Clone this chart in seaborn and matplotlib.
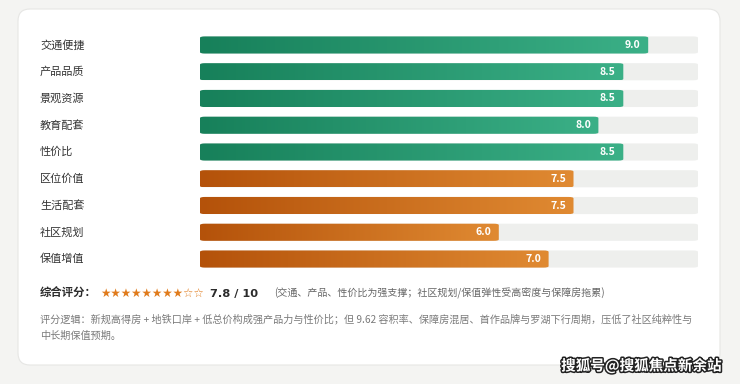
import numpy as np
import pandas as pd
import matplotlib
matplotlib.use("Agg")
import matplotlib.pyplot as plt
import seaborn as sns
from matplotlib.patches import FancyBboxPatch
from matplotlib.colors import LinearSegmentedColormap
from matplotlib.transforms import blended_transform_factory
import matplotlib.patheffects as pe

# ---------------- data ----------------
categories = ["交通便捷", "产品品质", "景观资源", "教育配套", "性价比",
              "区位价值", "生活配套", "社区规划", "保值增值"]
scores = [9.0, 8.5, 8.5, 8.0, 8.5, 7.5, 7.5, 6.0, 7.0]
groups = ["strong"] * 5 + ["weak"] * 4
max_score = 10
overall_label = "综合评分："
stars_text = "★★★★★★★★☆☆"
overall_text = "7.8 / 10"
overall_note = "(交通、产品、性价比为强支撑；社区规划/保值弹性受高密度与保障房拖累)"
logic_lines = [
    "评分逻辑：新规高得房 + 地铁口岸 + 低总价构成强产品力与性价比；但 9.62 容积率、保障房混居、首作品牌与罗湖下行周期，压低了社区纯粹性与",
    "中长期保值预期。",
]
watermark = "搜狐号@搜狐焦点新余站"

# ---------------- style ----------------
sns.set_theme(style="white")
plt.rcParams["font.family"] = ["Noto Sans CJK SC", "DejaVu Sans"]

W, H = 740, 384
fig = plt.figure(figsize=(W / 100, H / 100), dpi=100, facecolor="#F4F4F2")

# card
cx0, cy0, cx1, cy1 = 18, 9, 720, 365
card = FancyBboxPatch((cx0 / W, 1 - cy1 / H), (cx1 - cx0) / W, (cy1 - cy0) / H,
                      boxstyle=f"round,pad=0,rounding_size={12 / W}",
                      mutation_aspect=W / H, transform=fig.transFigure,
                      facecolor="white", edgecolor="#E6E6E4", linewidth=0.8, zorder=0)
fig.add_artist(card)

# axes
top_px, bot_px = 31.6, 272.4
ax = fig.add_axes([200 / W, 1 - bot_px / H, 498 / W, (bot_px - top_px) / H])
ax.set_facecolor("none")

df = pd.DataFrame({"category": categories, "score": scores, "group": groups,
                   "max": [max_score] * len(categories)})

sns.barplot(data=df, y="category", x="max", color="#EEEFED", width=0.64,
            saturation=1, ax=ax, orient="h")
n_track = len(ax.patches)
sns.barplot(data=df, y="category", x="score", hue="group",
            palette={"strong": "#1F8F66", "weak": "#C86A1C"}, width=0.64,
            dodge=False, legend=False, saturation=1, ax=ax, orient="h")

ax.set_xlim(0, max_score)
ax.set_ylim(len(categories) - 0.5, -0.5)
ax.axis("off")

px_per_x = 498 / max_score
px_per_y = (bot_px - top_px) / len(categories)
rad = 5 / px_per_x
aspect = px_per_x / px_per_y

grad_colors = {
    "strong": LinearSegmentedColormap.from_list("g", ["#17805A", "#3BB087"]),
    "weak": LinearSegmentedColormap.from_list("o", ["#B4520A", "#E08A32"]),
}
gradient = np.linspace(0, 1, 256).reshape(1, -1)

patches = list(ax.patches)
for i, p in enumerate(patches):
    x, y = p.get_x(), p.get_y()
    w, h = p.get_width(), p.get_height()
    p.remove()
    if w <= 0:
        continue
    row = int(round(y + h / 2))
    if i < n_track:
        fb = FancyBboxPatch((x, y), w, h,
                            boxstyle=f"round,pad=0,rounding_size={rad}",
                            mutation_aspect=1 / aspect,
                            facecolor="#EEEFED", edgecolor="none", zorder=1)
        ax.add_patch(fb)
    else:
        fb = FancyBboxPatch((x, y), w, h,
                            boxstyle=f"round,pad=0,rounding_size={rad}",
                            mutation_aspect=1 / aspect,
                            facecolor="none", edgecolor="none", zorder=2)
        ax.add_patch(fb)
        im = ax.imshow(gradient, cmap=grad_colors[groups[row]], aspect="auto",
                       extent=(x, x + w, y + h, y), zorder=2, interpolation="bicubic")
        im.set_clip_path(fb)
        ax.text(x + w - 0.15, row, f"{scores[row]:.1f}", ha="right", va="center",
                color="white", fontsize=7.6, fontweight="bold", zorder=3)

ax.set_xlim(0, max_score)
ax.set_ylim(len(categories) - 0.5, -0.5)

# category labels
trans = blended_transform_factory(fig.transFigure, ax.transData)
for i, c in enumerate(categories):
    ax.text(40 / W, i, c, transform=trans, ha="left", va="center",
            color="#333333", fontsize=8, clip_on=False)

# summary line
ys = 1 - 293.5 / H
fig.text(40 / W, ys, overall_label, ha="left", va="center", color="#2B2B2B",
         fontsize=8.2, fontweight="bold")
fig.text(100 / W, ys, stars_text, ha="left", va="center", color="#E07B1C",
         fontsize=8.4, family=["DejaVu Sans"])
fig.text(210 / W, ys, overall_text, ha="left", va="center", color="#2B2B2B",
         fontsize=8.2, fontweight="bold", family=["DejaVu Sans"])
fig.text(274 / W, ys, overall_note, ha="left", va="center", color="#666666",
         fontsize=7.2)

# logic lines
for line, ypx in zip(logic_lines, [319.5, 335.5]):
    fig.text(40 / W, 1 - ypx / H, line, ha="left", va="center", color="#7A7A7A",
             fontsize=7.3)

# watermark
fig.text(722 / W, 1 - 366 / H, watermark, ha="right", va="center", color="white",
         fontsize=10.5, fontweight="bold",
         path_effects=[pe.withStroke(linewidth=2.2, foreground="#222222")])

fig.savefig("out.png", dpi=100, facecolor=fig.get_facecolor())
